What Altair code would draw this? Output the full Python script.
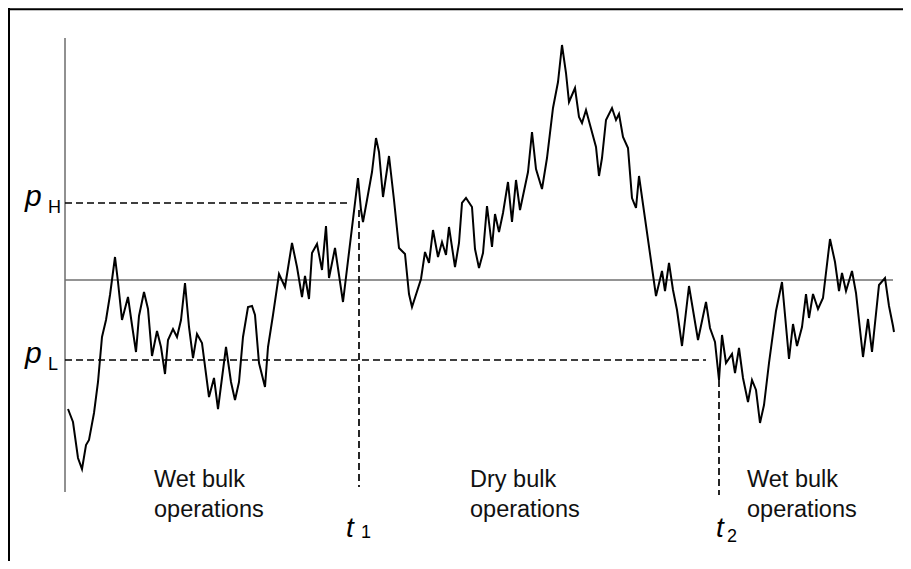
import altair as alt
import pandas as pd

# time (days from axis) and price deviation from long-run mean
T = [3, 8, 13, 17, 21, 24, 29, 33, 37, 41, 45, 50, 53, 57, 63, 67, 71, 74, 79, 83,
     87, 92, 96, 100, 103, 108, 112, 116, 120, 124, 128, 132, 137, 144, 149, 153, 161, 166, 170, 174,
     178, 183, 187, 190, 194, 200, 203, 208, 214, 220, 227, 232, 237, 240, 244, 247, 252, 257, 261, 264,
     270, 278, 293, 296, 298, 302, 307, 311, 314, 318, 324, 329, 334, 340, 344, 347, 356, 360, 364, 368,
     373, 377, 381, 384, 390, 394, 397, 401, 407, 410, 414, 418, 422, 427, 430, 434, 438, 443, 447, 451,
     455, 463, 467, 471, 477, 482, 488, 493, 497, 501, 504, 510, 514, 517, 521, 531, 534, 537, 541, 547,
     551, 554, 558, 563, 567, 571, 574, 591, 597, 600, 604, 608, 612, 617, 624, 633, 641, 645, 650, 654,
     657, 661, 667, 670, 674, 678, 683, 687, 691, 695, 699, 704, 711, 717, 724, 728, 732, 737, 741, 744,
     748, 753, 758, 765, 770, 774, 777, 781, 787, 791, 798, 803, 807, 814, 820, 824, 828, 829]
V = [-129, -142, -178, -189, -165, -160, -133, -102, -57, -40, -15, 23, -2, -40, -17, -45, -72, -36, -12, -29,
     -76, -51, -67, -94, -60, -49, -57, -40, -3, -47, -78, -54, -63, -117, -98, -129, -67, -102, -120, -102,
     -57, -27, -26, -35, -83, -107, -67, -35, 6, -7, 37, 13, -17, 4, -19, 27, 36, 10, 54, 2,
     32, -22, 102, 70, 58, 80, 108, 142, 128, 83, 124, 80, 32, 26, -14, -27, 1, 28, 17, 50,
     23, 38, 25, 53, 13, 37, 77, 82, 73, 31, 12, 27, 74, 33, 66, 48, 67, 98, 58, 100,
     70, 108, 148, 111, 91, 122, 172, 198, 235, 207, 178, 192, 163, 157, 170, 133, 104, 122, 160, 172,
     160, 166, 143, 132, 82, 72, 104, -16, 9, -11, 17, -10, -30, -66, -6, -60, -22, -48, -62, -100,
     -55, -83, -74, -93, -68, -98, -122, -100, -110, -143, -125, -83, -31, -2, -79, -44, -66, -47, -14, -38,
     -14, -29, -18, 41, 18, -11, 7, -11, 9, -13, -77, -39, -72, -5, 2, -26, -46, -52]

P_H = 77
P_L = -80
T1 = 294
T2 = 654

W, H = 895, 553
xs = alt.Scale(domain=[-57, 838], nice=False, zero=False)
ys = alt.Scale(domain=[-281, 272], nice=False, zero=False)

path = pd.DataFrame({"t": T, "v": V})

def X(f, **k):
    return alt.X(f, type="quantitative", scale=xs, axis=None, **k)

def Y(f, **k):
    return alt.Y(f, type="quantitative", scale=ys, axis=None, **k)

line = alt.Chart(path).mark_line(color="black", strokeWidth=2).encode(
    x=X("t"), y=Y("v"))

# frame (top and left edges)
frame_h = alt.Chart(pd.DataFrame({"a": [-57], "b": [838], "v": [270.7]})).mark_rule(
    color="black", strokeWidth=2).encode(x=X("a"), x2="b", y=Y("v"))
frame_v = alt.Chart(pd.DataFrame({"t": [-56], "a": [-281], "b": [272]})).mark_rule(
    color="black", strokeWidth=2).encode(x=X("t"), y=Y("a"), y2="b")

axis_line = alt.Chart(pd.DataFrame({"t": [0], "a": [-212], "b": [242]})).mark_rule(
    color="#222222", strokeWidth=1).encode(x=X("t"), y=Y("a"), y2="b")

mean_line = alt.Chart(pd.DataFrame({"a": [0], "b": [828], "v": [0]})).mark_rule(
    color="#707070", strokeWidth=1.3).encode(x=X("a"), x2="b", y=Y("v"))

hdash = alt.Chart(pd.DataFrame({"a": [0, 0], "b": [283, 641], "v": [P_H, P_L]})).mark_rule(
    color="black", strokeWidth=1.7, strokeDash=[7, 4]).encode(x=X("a"), x2="b", y=Y("v"))

vdash = alt.Chart(pd.DataFrame({"t": [T1, T2], "a": [70, -100], "b": [-207, -215]})).mark_rule(
    color="black", strokeWidth=1.7, strokeDash=[7, 4]).encode(x=X("t"), y=Y("a"), y2="b")

FONT = "Liberation Sans"

big = pd.DataFrame({"t": [-40, -40, 281, 651], "v": [74, -83, -257, -257],
                    "s": ["p", "p", "t", "t"], "fs": [30, 30, 28, 28]})
big_txt = alt.Chart(big).mark_text(font=FONT, fontStyle="italic", align="left",
                                   baseline="alphabetic", color="black").encode(
    x=X("t"), y=Y("v"), text="s:N", size=alt.Size("fs:Q", scale=None, legend=None))

sub = pd.DataFrame({"t": [-17, -17, 296, 662], "v": [67, -90, -258, -262],
                    "s": ["H", "L", "1", "2"]})
sub_txt = alt.Chart(sub).mark_text(font=FONT, fontSize=18, align="left",
                                   baseline="alphabetic", color="black").encode(
    x=X("t"), y=Y("v"), text="s:N")

labels = pd.DataFrame({"t": [89, 89, 405, 405, 682, 682],
                       "v": [-207, -237, -207, -237, -207, -237],
                       "s": ["Wet bulk", "operations", "Dry bulk", "operations",
                             "Wet bulk", "operations"]})
lab_txt = alt.Chart(labels).mark_text(font=FONT, fontSize=23.5, align="left",
                                      baseline="alphabetic", color="#111111").encode(
    x=X("t"), y=Y("v"), text="s:N")

chart = alt.layer(frame_h, frame_v, axis_line, mean_line, hdash, vdash, line,
                  big_txt, sub_txt, lab_txt).properties(
    width=W, height=H, padding=0, autosize=alt.AutoSizeParams(type="none"),
    background="white"
).configure_view(strokeWidth=0)

chart.save("out.html", embed_options={"renderer": "svg", "actions": False})
